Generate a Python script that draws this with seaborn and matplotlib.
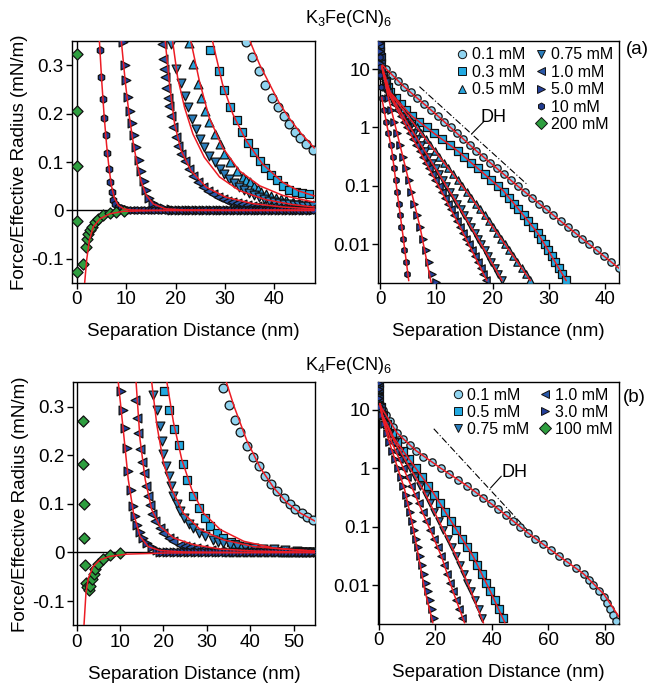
import matplotlib
matplotlib.use("Agg")
import matplotlib.pyplot as plt
import seaborn as sns
from matplotlib.lines import Line2D
from matplotlib.ticker import NullLocator

sns.set_style("ticks")
plt.rcParams["font.family"] = ["Liberation Sans", "DejaVu Sans"]
plt.rcParams["mathtext.default"] = "regular"
plt.rcParams["text.color"] = "black"
plt.rcParams["axes.labelcolor"] = "black"
plt.rcParams["xtick.color"] = "black"
plt.rcParams["ytick.color"] = "black"
plt.rcParams["axes.edgecolor"] = "black"

# ---------------- K3Fe(CN)6, linear scale (force / radius, mN/m) ----------------
K3_LIN_X_01 = [34.3, 35.5, 36.8, 38.2, 39.5, 40.7, 41.9, 43.0, 44.2, 45.3, 46.5, 47.8]
K3_LIN_Y_01 = [0.349, 0.318, 0.288, 0.260, 0.233, 0.214, 0.195, 0.179, 0.163, 0.150, 0.137, 0.125]
K3_LIN_X_03 = [27.0, 28.7, 29.9, 31.1, 32.4, 33.5, 34.6, 35.8, 37.0, 38.1, 39.3, 40.5, 41.7, 43.0, 44.4, 45.7, 47.0]
K3_LIN_Y_03 = [0.331, 0.288, 0.248, 0.214, 0.187, 0.163, 0.139, 0.120, 0.103, 0.088, 0.073, 0.062, 0.051, 0.043, 0.038, 0.035, 0.033]
K3_LIN_X_05 = [22.7, 23.6, 24.6, 25.2, 26.0, 26.8, 27.9, 28.9, 29.9, 31.1, 32.4, 33.6, 34.3, 35.0, 35.8,
               36.6, 37.4, 38.3, 39.3, 40.3, 41.3, 42.4, 43.7, 45.1, 46.4, 47.8]
K3_LIN_Y_05 = [0.347, 0.302, 0.261, 0.233, 0.206, 0.182, 0.158, 0.137, 0.117, 0.100, 0.082, 0.069, 0.063, 0.058, 0.051,
               0.045, 0.039, 0.034, 0.030, 0.026, 0.023, 0.021, 0.018, 0.015, 0.013, 0.012]
K3_LIN_X_075 = [19.1, 20.1, 21.1, 21.8, 22.5, 23.3, 24.1, 25.0, 25.8, 26.8, 27.9, 28.9, 29.9, 30.9, 31.9, 32.9,
                33.9, 34.9, 35.9, 36.9, 37.9, 38.9, 39.9, 40.9, 41.9, 42.9, 43.9, 44.9, 45.9, 46.9, 47.9]
K3_LIN_Y_075 = [0.343, 0.292, 0.264, 0.237, 0.213, 0.189, 0.168, 0.148, 0.130, 0.113, 0.100, 0.086, 0.076, 0.065, 0.056, 0.048,
                0.042, 0.036, 0.031, 0.027, 0.023, 0.020, 0.018, 0.016, 0.014, 0.013, 0.012, 0.011, 0.010, 0.009, 0.008]
K3_LIN_X_10 = [17.2, 17.4, 17.6, 17.9, 18.1, 18.4, 18.6, 19.0, 19.4, 20.0, 20.4, 21.1, 21.8, 22.7, 23.5, 24.5, 25.5,
               26.5, 27.5, 28.5, 29.5, 30.5, 31.5, 32.5, 33.5, 34.5, 35.5, 36.5, 37.5, 38.5, 39.5, 40.5, 41.5,
               42.5, 43.5, 44.5, 45.5, 46.5, 47.5]
K3_LIN_Y_10 = [0.343, 0.312, 0.292, 0.275, 0.254, 0.233, 0.216, 0.196, 0.172, 0.151, 0.134, 0.117, 0.103, 0.086, 0.072, 0.058, 0.048,
               0.040, 0.033, 0.027, 0.023, 0.020, 0.017, 0.015, 0.013, 0.011, 0.010, 0.009, 0.008, 0.007, 0.006, 0.0055, 0.005,
               0.0045, 0.004, 0.0037, 0.0034, 0.0032, 0.003]
K3_LIN_X_50 = [9.3, 9.65, 10.0, 10.4, 10.8, 11.2, 11.6, 12.0, 12.5, 13.0, 13.5, 14.0, 14.7, 15.5, 16.5, 17.7, 19.0]
K3_LIN_Y_50 = [0.349, 0.30, 0.27, 0.235, 0.205, 0.18, 0.155, 0.13, 0.105, 0.082, 0.060, 0.042, 0.026, 0.015, 0.008, 0.004, 0.002]
K3_LIN_X_100 = [4.6, 4.9, 5.2, 5.5, 5.8, 6.1, 6.4, 6.7, 7.0, 7.4, 7.8, 8.3, 8.9, 9.6]
K3_LIN_Y_100 = [0.332, 0.275, 0.231, 0.192, 0.155, 0.118, 0.085, 0.058, 0.038, 0.022, 0.013, 0.007, 0.004, 0.002]
K3_LIN_X_200 = [0.1, 0.1, 0.1, 0.1, 0.1, 1.3, 1.8, 2.1, 2.3, 2.6, 3.0, 3.6, 4.3, 5.3, 6.7, 8.0, 9.5]
K3_LIN_Y_200 = [0.324, 0.206, 0.091, -0.021, -0.127, -0.110, -0.075, -0.060, -0.048, -0.041, -0.034, -0.024, -0.017,
                -0.010, -0.005, -0.003, -0.0015]
BASE_X_K3 = [8.0, 8.7, 9.4, 10.1, 10.8, 11.5, 12.2, 12.9, 13.6, 14.3, 15.0, 15.7, 16.4, 17.1, 17.8, 18.5, 19.2,
             19.9, 20.6, 21.3, 22.0, 22.7, 23.4, 24.1, 24.8, 25.5, 26.2, 26.9, 27.6, 28.3, 29.0, 29.7, 30.4,
             31.1, 31.8, 32.5, 33.2, 33.9, 34.6, 35.3, 36.0, 36.7, 37.4, 38.1, 38.8, 39.5, 40.2, 40.9, 41.6,
             42.3, 43.0, 43.7, 44.4, 45.1, 45.8, 46.5, 47.2, 47.9]

K3_FIT_X_01 = [35.1, 37.0, 39.0, 41.0, 43.0, 45.0, 48.1]
K3_FIT_Y_01 = [0.349, 0.302, 0.262, 0.222, 0.191, 0.164, 0.129]
K3_FIT_X_03 = [27.5, 29.5, 31.6, 34.3, 37.6, 41.7, 45.0, 48.1]
K3_FIT_Y_03 = [0.349, 0.261, 0.199, 0.144, 0.096, 0.058, 0.040, 0.030]
K3_FIT_X_05 = [23.1, 24.8, 26.8, 29.5, 32.9, 37.0, 41.7, 48.1]
K3_FIT_Y_05 = [0.349, 0.268, 0.192, 0.130, 0.082, 0.051, 0.031, 0.017]
K3_FIT_X_075 = [19.4, 20.4, 21.8, 23.5, 25.8, 28.9, 32.9, 38.3, 43.7, 48.1]
K3_FIT_Y_075 = [0.349, 0.275, 0.213, 0.158, 0.110, 0.069, 0.041, 0.022, 0.012, 0.007]
K3_FIT_X_10 = [17.9, 18.75, 19.8, 21.1, 23.1, 26.2, 30.2, 35.6, 41.7, 48.1]
K3_FIT_Y_10 = [0.349, 0.261, 0.178, 0.124, 0.082, 0.048, 0.027, 0.014, 0.007, 0.003]
K3_FIT_X_50 = [9.0, 9.8, 10.6, 11.4, 12.2, 13.0, 14.0, 15.5, 18.0, 22.0, 30.0, 48.0]
K3_FIT_Y_50 = [0.349, 0.265, 0.195, 0.140, 0.095, 0.060, 0.032, 0.013, 0.003, 0.0008, 0.0002, 0.0]
K3_FIT_X_100 = [4.55, 5.0, 5.5, 6.0, 6.5, 7.0, 7.6, 8.4, 9.5, 11.0, 14.0, 20.0, 48.0]
K3_FIT_Y_100 = [0.35, 0.27, 0.196, 0.136, 0.087, 0.050, 0.025, 0.010, 0.003, 0.0008, 0.0002, 0.0001, 0.0]
K3_FIT_X_200 = [1.55, 1.96, 2.5, 3.3, 4.7, 6.7, 9.4, 15.5, 25.0, 48.0]
K3_FIT_Y_200 = [-0.151, -0.103, -0.062, -0.034, -0.017, -0.007, -0.002, -0.0005, -0.0002, 0.0]

# ---------------- K3Fe(CN)6, log scale ----------------
LOG_LEVELS = [25.1, 20.0, 15.8, 12.6, 10.0, 7.94, 6.31, 5.01, 3.98, 3.16, 2.51, 2.00, 1.58, 1.26, 1.00,
              0.794, 0.631, 0.501, 0.398, 0.316, 0.251, 0.200, 0.158, 0.126, 0.100, 0.0794, 0.0631, 0.0501,
              0.0398, 0.0316, 0.0251, 0.0200, 0.0158, 0.0126, 0.0100, 0.00794, 0.00631, 0.00501, 0.00398,
              0.00316, 0.00251]
K3_LOG_X_01 = [0.0, 0.05, 0.1, 0.1, 1.13, 2.15, 3.18, 4.24, 5.44, 6.64, 7.84, 9.04, 10.23, 11.38, 12.53, 13.68,
               14.83, 15.97, 17.12, 18.34, 19.56, 20.78, 22.0, 23.22, 24.45, 25.72, 27.0, 28.27, 29.54, 30.81,
               32.08, 33.36, 34.65, 35.94, 37.23, 38.53, 39.82, 41.11, 42.4]
K3_LOG_X_03 = [0.0, 0.05, 0.1, 0.15, 0.2, 0.6, 1.0, 1.4, 1.8, 2.75, 3.7, 4.65, 5.6, 6.93, 8.27, 9.6, 11.0, 12.4,
               13.8, 15.0, 16.2, 17.4, 18.6, 19.8, 20.95, 22.07, 22.9, 23.8, 24.6, 25.5, 26.3, 27.2, 28.0, 28.6,
               29.25, 29.9, 30.5, 31.1, 31.75, 32.4, 33.0]
K3_LOG_X_05 = [0.0, 0.05, 0.1, 0.15, 0.2, 0.58, 0.95, 1.33, 1.7, 2.5, 3.31, 4.11, 4.92, 5.72, 6.53, 7.33, 8.14,
               8.94, 9.75, 10.55, 11.36, 12.16, 12.97, 13.77, 14.58, 15.38, 16.19, 16.99, 17.8, 18.6, 19.33,
               20.05, 20.78, 21.5, 22.24, 22.96, 23.7, 24.4, 25.15, 25.9, 26.6]
K3_LOG_X_075 = [0.0, 0.05, 0.1, 0.15, 0.2, 0.53, 0.85, 1.18, 1.5, 2.14, 2.79, 3.43, 4.07, 4.71, 5.36, 6.0, 6.64,
                7.29, 7.93, 8.57, 9.21, 9.86, 10.5, 11.14, 11.79, 12.43, 13.07, 13.71, 14.36, 15.0, 15.6, 16.2,
                16.8, 17.4, 18.0, 18.6, 19.2, 19.8, 20.4, 21.0, 21.6]
K3_LOG_X_10 = [0.0, 0.05, 0.1, 0.15, 0.2, 0.5, 0.8, 1.1, 1.4, 1.96, 2.52, 3.09, 3.65, 4.21, 4.77, 5.33, 5.9,
               6.46, 7.02, 7.58, 8.14, 8.7, 9.27, 9.83, 10.39, 10.95, 11.51, 12.08, 12.64, 13.2, 13.72, 14.24,
               14.75, 15.27, 15.79, 16.31, 16.83, 17.35, 17.86, 18.38, 18.9]
K3_LOG_X_50 = [0.0, 0.0, 0.0, 0.54, 1.02, 1.5, 2.01, 2.52, 3.03, 3.54, 4.05, 4.56, 5.07, 5.58, 6.1, 6.6, 7.1,
               7.62, 8.13, 8.64, 9.15, 9.9]
K3_LOG_Y_50 = [28.0, 20.0, 12.6, 7.94, 5.01, 3.16, 2.00, 1.26, 0.794, 0.501, 0.316, 0.200, 0.126, 0.0794,
               0.0501, 0.0316, 0.0200, 0.0126, 0.00794, 0.00501, 0.00316, 0.0023]
K3_LOG_X_100 = [0.0, 0.0, 0.06, 0.18, 0.3, 0.7, 1.1, 1.5, 1.9, 2.23, 2.5, 2.76, 3.02, 3.29, 3.55, 3.81, 4.08,
                4.34, 4.6, 4.87]
K3_LOG_Y_100 = [15.8, 11.0, 7.94, 5.01, 3.16, 2.00, 1.26, 0.794, 0.501, 0.316, 0.200, 0.126, 0.0794, 0.0501,
                0.0316, 0.0200, 0.0126, 0.00794, 0.00501, 0.00316]

K3_LFIT_X_01 = [0.4, 2.0, 4.2, 7.0, 10.2, 14.0, 17.1, 21.0, 24.4, 28.0, 33.4, 38.0, 42.5]
K3_LFIT_Y_01 = [11.7, 8.2, 5.05, 2.95, 1.60, 0.745, 0.40, 0.191, 0.101, 0.0526, 0.0198, 0.0087, 0.0039]
K3_LFIT_X_03 = [0.3, 1.8, 5.6, 9.6, 13.8, 17.97, 21.9, 25.06, 28.0, 30.5, 33.1]
K3_LFIT_Y_03 = [11.2, 3.98, 1.58, 0.794, 0.398, 0.178, 0.0832, 0.0355, 0.0158, 0.0063, 0.0024]
K3_LFIT_X_05 = [0.3, 1.7, 6.53, 11.36, 16.19, 20.78, 25.15, 26.75]
K3_LFIT_X_075 = [0.3, 1.5, 5.36, 9.21, 13.07, 16.8, 20.4, 21.7]
K3_LFIT_X_10 = [0.3, 1.4, 4.77, 8.14, 11.51, 14.75, 17.86, 19.0]
K3_LFIT_Y_MID = [11.2, 3.98, 1.0, 0.251, 0.0631, 0.0158, 0.00398, 0.0024]
K3_LFIT_X_50 = [0.4, 1.5, 2.52, 4.05, 5.58, 7.1, 8.3, 9.1]
K3_LFIT_Y_50 = [10.0, 3.16, 1.26, 0.316, 0.0794, 0.0200, 0.0052, 0.0022]
K3_LFIT_X_100 = [0.3, 0.7, 1.1, 1.5, 2.1, 3.0, 4.0, 5.1]
K3_LFIT_Y_100 = [3.3, 2.0, 1.26, 0.794, 0.40, 0.085, 0.016, 0.0024]
K3_DH_X = [7.0, 26.2]
K3_DH_Y = [5.0, 0.105]

# ---------------- K4Fe(CN)6, linear scale ----------------
K4_LIN_X_01 = [33.7, 35.1, 36.4, 37.7, 39.2, 40.6, 41.9, 43.3, 44.8, 46.2, 47.7, 49.1, 50.4, 51.8, 53.1, 54.4]
K4_LIN_Y_01 = [0.338, 0.303, 0.273, 0.247, 0.219, 0.196, 0.177, 0.158, 0.141, 0.126, 0.112, 0.100, 0.090, 0.081, 0.073, 0.066]
K4_LIN_X_05 = [20.2, 21.2, 22.5, 23.5, 24.4, 25.4, 26.7, 28.1, 29.5, 30.8, 32.3, 33.8, 35.5, 36.4, 37.3, 38.2,
               39.2, 40.3, 41.5, 42.6, 43.8, 45.3, 46.9]
K4_LIN_Y_05 = [0.331, 0.292, 0.254, 0.221, 0.181, 0.150, 0.117, 0.092, 0.071, 0.054, 0.041, 0.030, 0.021, 0.017, 0.014, 0.012,
               0.011, 0.009, 0.008, 0.007, 0.006, 0.005, 0.004]
K4_LIN_X_075 = [17.7, 18.5, 19.1, 19.6, 20.0, 20.5, 21.2, 21.7, 22.3, 23.1, 23.8, 24.8, 25.8, 26.9, 28.2, 29.6,
                31.5, 32.6, 33.8, 35.3, 36.9, 38.8, 40.8, 43.0, 45.4, 48.0, 50.8]
K4_LIN_Y_075 = [0.324, 0.292, 0.259, 0.230, 0.202, 0.178, 0.157, 0.137, 0.116, 0.099, 0.085, 0.071, 0.059, 0.050, 0.041, 0.033,
                0.026, 0.022, 0.019, 0.016, 0.014, 0.012, 0.010, 0.008, 0.007, 0.005, 0.004]
K4_LIN_X_10 = [13.5, 13.8, 14.1, 14.5, 15.0, 15.5, 16.0, 16.5, 16.9, 17.3, 18.1, 19.1, 20.0, 21.2, 22.3, 23.8,
               24.9, 26.2, 27.6, 29.2, 31.0, 33.1]
K4_LIN_Y_10 = [0.314, 0.277, 0.246, 0.212, 0.185, 0.164, 0.137, 0.116, 0.097, 0.080, 0.064, 0.050, 0.040, 0.030, 0.023, 0.016,
               0.013, 0.011, 0.009, 0.007, 0.005, 0.004]
K4_LIN_X_30 = [10.2, 10.8, 11.2, 11.5, 11.9, 12.5, 13.1, 13.5, 13.8, 14.6, 15.4, 16.2, 17.3, 18.5]
K4_LIN_Y_30 = [0.331, 0.293, 0.255, 0.214, 0.168, 0.128, 0.095, 0.074, 0.057, 0.043, 0.030, 0.019, 0.011, 0.006]
K4_LIN_X_100 = [1.5, 1.5, 1.7, 1.8, 1.9, 2.1, 2.4, 2.9, 3.1, 3.5, 3.9, 4.3, 5.0, 6.1, 7.7, 10.0]
K4_LIN_Y_100 = [0.271, 0.181, 0.100, 0.030, -0.026, -0.063, -0.072, -0.077, -0.070, -0.055, -0.044, -0.035, -0.024,
                -0.013, -0.006, -0.002]
BASE_X_K4 = [8.0, 8.8, 9.6, 10.4, 11.2, 12.0, 12.8, 13.6, 14.4, 15.2, 16.0, 16.8, 17.6, 18.4, 19.2, 20.0, 20.8,
             21.6, 22.4, 23.2, 24.0, 24.8, 25.6, 26.4, 27.2, 28.0, 28.8, 29.6, 30.4, 31.2, 32.0, 32.8, 33.6,
             34.4, 35.2, 36.0, 36.8, 37.6, 38.4, 39.2, 40.0, 40.8, 41.6, 42.4, 43.2, 44.0, 44.8, 45.6, 46.4,
             47.2, 48.0, 48.8, 49.6, 50.4, 51.2, 52.0, 52.8, 53.6, 54.4]

K4_FIT_X_01 = [34.5, 36.2, 39.2, 42.3, 45.4, 48.5, 51.5, 55.0]
K4_FIT_Y_01 = [0.350, 0.302, 0.230, 0.174, 0.133, 0.102, 0.081, 0.064]
K4_FIT_X_05 = [20.8, 22.3, 24.2, 26.5, 29.2, 33.1, 38.5, 45.4, 55.0]
K4_FIT_Y_05 = [0.350, 0.268, 0.192, 0.130, 0.081, 0.047, 0.023, 0.009, 0.002]
K4_FIT_X_075 = [17.3, 18.5, 20.0, 21.9, 24.6, 28.5, 33.8, 40.8, 49.2, 55.0]
K4_FIT_Y_075 = [0.350, 0.261, 0.185, 0.130, 0.081, 0.047, 0.026, 0.012, 0.006, 0.003]
K4_FIT_X_10 = [13.7, 14.6, 15.8, 17.3, 19.2, 22.3, 26.9, 33.1, 40.8, 55.0]
K4_FIT_Y_10 = [0.350, 0.233, 0.150, 0.088, 0.054, 0.030, 0.016, 0.007, 0.003, 0.0]
K4_FIT_X_30 = [9.6, 10.8, 11.9, 13.1, 14.6, 16.5, 19.2, 24.6, 35.0, 55.0]
K4_FIT_Y_30 = [0.350, 0.247, 0.150, 0.081, 0.033, 0.012, 0.004, 0.001, 0.0003, 0.0]
K4_FIT_X_100 = [1.7, 2.15, 2.7, 3.8, 5.4, 7.7, 11.5, 20.8, 55.0]
K4_FIT_Y_100 = [-0.150, -0.084, -0.053, -0.029, -0.015, -0.008, -0.0035, -0.001, 0.0]

# ---------------- K4Fe(CN)6, log scale ----------------
K4_LOG_X_01 = [0.0, 0.1, 0.2, 0.3, 1.27, 2.53, 3.8, 5.06, 6.42, 8.64, 10.85, 13.07, 15.64, 18.74, 21.85, 24.95,
               28.06, 31.17, 34.0, 36.8, 39.5, 42.3, 44.8, 47.4, 50.0, 52.6, 55.2, 58.0, 60.9, 63.8, 66.7, 69.6,
               72.4, 74.2, 75.9, 77.7, 79.5, 80.6, 81.7, 82.8, 84.0]
K4_LEVELS = [28.0, 22.0, 15.8, 11.2, 7.94, 5.62, 3.98, 2.82, 2.00, 1.41, 1.00, 0.708, 0.501, 0.355, 0.251,
             0.178, 0.126, 0.0891, 0.0631, 0.0447, 0.0316, 0.0224, 0.0158, 0.0112, 0.00794, 0.00562, 0.00398,
             0.00282]
K4_LOG_X_05 = [0.0, 0.05, 0.1, 0.7, 1.3, 2.9, 4.45, 6.25, 8.5, 10.75, 13.0, 15.25, 17.5, 19.6, 21.55, 23.5,
               25.5, 27.4, 29.4, 31.3, 33.3, 34.8, 36.3, 37.9, 39.4, 40.9, 42.5, 44.0]
K4_LOG_X_075 = [0.0, 0.05, 0.1, 0.65, 1.2, 2.63, 4.05, 5.6, 7.4, 9.2, 11.05, 12.9, 14.7, 16.5, 18.0, 19.6,
                21.2, 22.7, 24.3, 25.8, 27.4, 28.7, 30.0, 31.3, 32.6, 33.9, 35.25, 36.6]
K4_LOG_X_10 = [0.0, 0.05, 0.1, 0.6, 1.1, 2.19, 3.28, 4.46, 5.85, 7.24, 8.63, 10.01, 11.4, 12.76, 14.09, 15.43,
               16.76, 18.1, 19.43, 20.77, 22.1, 23.13, 24.16, 25.18, 26.21, 27.24, 28.27, 29.3]
K4_LOG_X_30 = [0.0, 0.05, 0.1, 0.55, 1.0, 1.86, 2.73, 3.64, 4.64, 5.65, 6.65, 7.66, 8.66, 9.5, 10.2, 10.9,
               11.6, 12.3, 13.0, 13.7, 14.4, 15.1, 15.85, 16.6, 17.3, 18.0, 18.7, 19.5]

K4_LFIT_X_01 = [0.5, 6.42, 13.07, 21.85, 31.17, 42.3, 52.6, 63.8, 72.4, 79.5, 85.0]
K4_LFIT_Y_01 = [11.5, 3.98, 2.0, 1.0, 0.501, 0.200, 0.0794, 0.0316, 0.0158, 0.0072, 0.0029]
K4_LFIT_X_05 = [0.4, 1.3, 5.5, 13.0, 18.5, 25.5, 33.3, 39.4, 44.6]
K4_LFIT_X_075 = [0.4, 1.2, 5.0, 11.0, 15.6, 21.2, 27.4, 32.6, 37.0]
K4_LFIT_X_10 = [0.4, 1.1, 4.0, 8.63, 12.0, 16.76, 22.1, 26.21, 30.3]
K4_LFIT_X_30 = [0.4, 1.0, 3.3, 6.65, 9.1, 11.6, 14.0, 16.3, 19.1]
K4_LFIT_Y = [12.6, 7.94, 3.16, 1.0, 0.432, 0.126, 0.0316, 0.00794, 0.0023]
K4_DH_X = [19.4, 55.7]
K4_DH_Y = [4.7, 0.06]

# ---------------- styles ----------------
RED = "#EC1C24"
EDGE = "#111111"
STYLE = {
    "0.1 mM": ("o", "#8FD3EF"),
    "0.3 mM": ("s", "#22A9E1"),
    "0.5 mM": ("^", "#2AA3DB"),
    "0.75 mM": ("v", "#2A7DBB"),
    "1.0 mM": ("<", "#2A58A8"),
    "3.0 mM": (">", "#243F9A"),
    "5.0 mM": (">", "#243F9A"),
    "10 mM": ("h", "#1F3A8E"),
    "100 mM": ("D", "#2E9E3F"),
    "200 mM": ("D", "#2E9E3F"),
}
K4_STYLE = dict(STYLE)
K4_STYLE["0.5 mM"] = ("s", "#22A9E1")


def draw(ax, x, y, key, s, styles=STYLE):
    m, c = styles[key]
    sns.scatterplot(x=x, y=y, marker=m, s=s, color=c, edgecolor=EDGE, linewidth=0.9,
                    legend=False, ax=ax, zorder=3)


def fit(ax, x, y):
    sns.lineplot(x=x, y=y, color=RED, linewidth=1.1, sort=False, estimator=None, ax=ax, zorder=4)


def baseline(ax, base_x, last_x, key, s, styles=STYLE):
    bx = [v for v in base_x if v > last_x]
    draw(ax, bx, [0.0] * len(bx), key, s, styles)


def style_axes(ax, xticks, yticks, ylabels):
    for sp in ax.spines.values():
        sp.set_linewidth(1.0)
        sp.set_color("black")
    ax.tick_params(axis="both", which="major", direction="out", length=4, width=1,
                   labelsize=13.5, pad=2, top=False, right=False, colors="black")
    ax.set_xticks(xticks)
    ax.set_xticklabels([str(t) for t in xticks])
    ax.set_yticks(yticks)
    ax.set_yticklabels(ylabels)
    ax.yaxis.set_minor_locator(NullLocator())
    ax.xaxis.set_minor_locator(NullLocator())
    ax.set_xlabel("Separation Distance (nm)", fontsize=13.5, color="black")
    ax.xaxis.set_label_coords(0.5, -0.165)


def legend_handle(key, styles):
    m, c = styles[key]
    ms = 5 if m == "h" else 6
    return Line2D([], [], marker=m, linestyle="", markerfacecolor=c, markeredgecolor=EDGE,
                  markeredgewidth=0.7, markersize=ms)


fig = plt.figure(figsize=(6.49, 6.85), dpi=100)
ax_tl = fig.add_axes([0.111, 0.587, 0.374, 0.353])
ax_tr = fig.add_axes([0.583, 0.587, 0.371, 0.353])
ax_bl = fig.add_axes([0.112, 0.087, 0.374, 0.355])
ax_br = fig.add_axes([0.583, 0.089, 0.371, 0.354])

S_LIN = 40
S_LOG = 28

# ---- top left: K3 linear ----
ax = ax_tl
ax.axhline(0, color="black", lw=1, zorder=1)
ax.axvline(0, color="black", lw=1, zorder=1)
draw(ax, K3_LIN_X_01, K3_LIN_Y_01, "0.1 mM", S_LIN)
draw(ax, K3_LIN_X_03, K3_LIN_Y_03, "0.3 mM", S_LIN)
draw(ax, K3_LIN_X_05, K3_LIN_Y_05, "0.5 mM", S_LIN)
draw(ax, K3_LIN_X_075, K3_LIN_Y_075, "0.75 mM", S_LIN)
draw(ax, K3_LIN_X_10, K3_LIN_Y_10, "1.0 mM", S_LIN)
draw(ax, K3_LIN_X_50, K3_LIN_Y_50, "5.0 mM", S_LIN)
baseline(ax, BASE_X_K3, K3_LIN_X_50[-1], "5.0 mM", S_LIN)
draw(ax, K3_LIN_X_100, K3_LIN_Y_100, "10 mM", 28)
baseline(ax, BASE_X_K3, K3_LIN_X_100[-1], "10 mM", 28)
draw(ax, K3_LIN_X_200, K3_LIN_Y_200, "200 mM", 32)
for fx, fy in [(K3_FIT_X_01, K3_FIT_Y_01), (K3_FIT_X_03, K3_FIT_Y_03), (K3_FIT_X_05, K3_FIT_Y_05),
               (K3_FIT_X_075, K3_FIT_Y_075), (K3_FIT_X_10, K3_FIT_Y_10), (K3_FIT_X_50, K3_FIT_Y_50),
               (K3_FIT_X_100, K3_FIT_Y_100), (K3_FIT_X_200, K3_FIT_Y_200)]:
    fit(ax, fx, fy)
ax.set_xlim(-1.0, 48.2)
ax.set_ylim(-0.15, 0.35)
style_axes(ax, [0, 10, 20, 30, 40], [-0.1, 0, 0.1, 0.2, 0.3], ["-0.1", "0", "0.1", "0.2", "0.3"])
ax.set_ylabel("Force/Effective Radius (mN/m)", fontsize=13.5, color="black")
ax.yaxis.set_label_coords(-0.18, 0.5)

# ---- top right: K3 log ----
ax = ax_tr
ax.set_yscale("log")
ax.axvline(0, color="black", lw=1, zorder=1)
draw(ax, K3_LOG_X_01, LOG_LEVELS[:len(K3_LOG_X_01)], "0.1 mM", S_LOG)
draw(ax, K3_LOG_X_03, LOG_LEVELS, "0.3 mM", S_LOG)
draw(ax, K3_LOG_X_05, LOG_LEVELS, "0.5 mM", S_LOG)
draw(ax, K3_LOG_X_075, LOG_LEVELS, "0.75 mM", S_LOG)
draw(ax, K3_LOG_X_10, LOG_LEVELS, "1.0 mM", S_LOG)
draw(ax, K3_LOG_X_50, K3_LOG_Y_50, "5.0 mM", S_LOG)
draw(ax, K3_LOG_X_100, K3_LOG_Y_100, "10 mM", 20)
for fx, fy in [(K3_LFIT_X_01, K3_LFIT_Y_01), (K3_LFIT_X_03, K3_LFIT_Y_03), (K3_LFIT_X_05, K3_LFIT_Y_MID),
               (K3_LFIT_X_075, K3_LFIT_Y_MID), (K3_LFIT_X_10, K3_LFIT_Y_MID), (K3_LFIT_X_50, K3_LFIT_Y_50),
               (K3_LFIT_X_100, K3_LFIT_Y_100)]:
    fit(ax, fx, fy)
ax.plot(K3_DH_X, K3_DH_Y, color="black", lw=0.8, dashes=(6, 2, 1, 2), zorder=2)
ax.plot([16.3, 18.5], [0.78, 1.28], color="black", lw=0.8, zorder=2)
ax.text(20.1, 1.5, "DH", fontsize=13, ha="center", va="center", color="black")
ax.set_xlim(-0.3, 42.5)
ax.set_ylim(0.0022, 30)
style_axes(ax, [0, 10, 20, 30, 40], [0.01, 0.1, 1, 10], ["0.01", "0.1", "1", "10"])
k3_keys = ["0.1 mM", "0.3 mM", "0.5 mM", None, None, "0.75 mM", "1.0 mM", "5.0 mM", "10 mM", "200 mM"]
handles = [legend_handle(k, STYLE) if k else Line2D([], [], linestyle="", marker="") for k in k3_keys]
labels = [k if k else "" for k in k3_keys]
ax.legend(handles, labels, loc="upper right", bbox_to_anchor=(1.0, 1.0), ncol=2, frameon=False,
          fontsize=11.5, handlelength=0.8, handletextpad=0.2, columnspacing=0.6, labelspacing=0.15,
          borderaxespad=0.2, borderpad=0.2, labelcolor="black")

# ---- bottom left: K4 linear ----
ax = ax_bl
ax.axhline(0, color="black", lw=1, zorder=1)
ax.axvline(0, color="black", lw=1, zorder=1)
draw(ax, K4_LIN_X_01, K4_LIN_Y_01, "0.1 mM", S_LIN, K4_STYLE)
draw(ax, K4_LIN_X_05, K4_LIN_Y_05, "0.5 mM", S_LIN, K4_STYLE)
baseline(ax, BASE_X_K4, K4_LIN_X_05[-1], "0.5 mM", S_LIN, K4_STYLE)
draw(ax, K4_LIN_X_075, K4_LIN_Y_075, "0.75 mM", S_LIN, K4_STYLE)
baseline(ax, BASE_X_K4, K4_LIN_X_075[-1], "0.75 mM", S_LIN, K4_STYLE)
draw(ax, K4_LIN_X_10, K4_LIN_Y_10, "1.0 mM", S_LIN, K4_STYLE)
baseline(ax, BASE_X_K4, K4_LIN_X_10[-1], "1.0 mM", S_LIN, K4_STYLE)
draw(ax, K4_LIN_X_30, K4_LIN_Y_30, "3.0 mM", S_LIN, K4_STYLE)
baseline(ax, BASE_X_K4, K4_LIN_X_30[-1], "3.0 mM", S_LIN, K4_STYLE)
draw(ax, K4_LIN_X_100, K4_LIN_Y_100, "100 mM", 32, K4_STYLE)
for fx, fy in [(K4_FIT_X_01, K4_FIT_Y_01), (K4_FIT_X_05, K4_FIT_Y_05), (K4_FIT_X_075, K4_FIT_Y_075),
               (K4_FIT_X_10, K4_FIT_Y_10), (K4_FIT_X_30, K4_FIT_Y_30), (K4_FIT_X_100, K4_FIT_Y_100)]:
    fit(ax, fx, fy)
ax.set_xlim(-0.9, 55)
ax.set_ylim(-0.15, 0.35)
style_axes(ax, [0, 10, 20, 30, 40, 50], [-0.1, 0, 0.1, 0.2, 0.3], ["-0.1", "0", "0.1", "0.2", "0.3"])
ax.set_ylabel("Force/Effective Radius (mN/m)", fontsize=13.5, color="black")
ax.yaxis.set_label_coords(-0.18, 0.5)

# ---- bottom right: K4 log ----
ax = ax_br
ax.set_yscale("log")
ax.axvline(0, color="black", lw=1, zorder=1)
draw(ax, K4_LOG_X_01, LOG_LEVELS, "0.1 mM", S_LOG, K4_STYLE)
draw(ax, K4_LOG_X_05, K4_LEVELS, "0.5 mM", S_LOG, K4_STYLE)
draw(ax, K4_LOG_X_075, K4_LEVELS, "0.75 mM", S_LOG, K4_STYLE)
draw(ax, K4_LOG_X_10, K4_LEVELS, "1.0 mM", S_LOG, K4_STYLE)
draw(ax, K4_LOG_X_30, K4_LEVELS, "3.0 mM", S_LOG, K4_STYLE)
for fx, fy in [(K4_LFIT_X_01, K4_LFIT_Y_01), (K4_LFIT_X_05, K4_LFIT_Y), (K4_LFIT_X_075, K4_LFIT_Y),
               (K4_LFIT_X_10, K4_LFIT_Y), (K4_LFIT_X_30, K4_LFIT_Y)]:
    fit(ax, fx, fy)
ax.plot(K4_DH_X, K4_DH_Y, color="black", lw=0.8, dashes=(6, 2, 1, 2), zorder=2)
ax.plot([39.5, 43.3], [0.46, 0.73], color="black", lw=0.8, zorder=2)
ax.text(47.8, 0.86, "DH", fontsize=13, ha="center", va="center", color="black")
ax.set_xlim(-0.2, 85)
ax.set_ylim(0.0022, 30)
style_axes(ax, [0, 20, 40, 60, 80], [0.01, 0.1, 1, 10], ["0.01", "0.1", "1", "10"])
k4_keys = ["0.1 mM", "0.5 mM", "0.75 mM", "1.0 mM", "3.0 mM", "100 mM"]
ax.legend([legend_handle(k, K4_STYLE) for k in k4_keys], k4_keys, loc="upper right",
          bbox_to_anchor=(1.0, 1.0), ncol=2, frameon=False, fontsize=11.5, handlelength=0.8,
          handletextpad=0.2, columnspacing=0.6, labelspacing=0.12, borderaxespad=0.2, borderpad=0.2,
          labelcolor="black")

# ---- titles and panel tags ----
fig.text(0.538, 0.973, "K$_3$Fe(CN)$_6$", fontsize=13, ha="center", va="center", color="black")
fig.text(0.538, 0.467, "K$_4$Fe(CN)$_6$", fontsize=13, ha="center", va="center", color="black")
fig.text(0.982, 0.928, "(a)", fontsize=13.5, ha="center", va="center", color="black")
fig.text(0.978, 0.420, "(b)", fontsize=13.5, ha="center", va="center", color="black")

fig.savefig("out.png", dpi=100)
